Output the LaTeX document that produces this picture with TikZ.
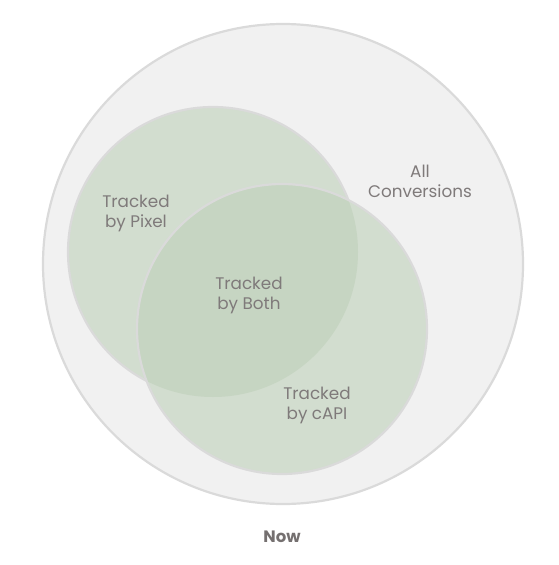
\documentclass[tikz,border=0pt]{standalone}
\usepackage{fontspec}
\setmainfont{Poppins}
\definecolor{bggray}{HTML}{F1F1F1}
\definecolor{edgegray}{HTML}{DADADA}
\definecolor{greenfill}{HTML}{D2DDCF}
\definecolor{overlapfill}{HTML}{C6D5C2}
\definecolor{txtgray}{HTML}{7F7A7A}
\definecolor{nowgray}{HTML}{757070}
\tikzset{
  lbl/.style={text=txtgray, font=\fontsize{16.8}{20}\selectfont, align=center},
  ring/.style={draw=edgegray, line width=2.2pt},
}
\begin{document}
\begin{tikzpicture}[x=1pt,y=-1pt]
\useasboundingbox (0,0) rectangle (558,565);
% outer circle
\fill[bggray] (283,264) circle (240);
\draw[ring] (283,264) circle (240);
% pixel circle
\fill[greenfill] (213,252) circle (145);
\draw[ring] (213,252) circle (145);
% cAPI circle
\fill[greenfill] (282,329) circle (145);
\begin{scope}
  \clip (213,252) circle (145);
  \fill[overlapfill] (282,329) circle (145);
\end{scope}
\draw[ring] (282,329) circle (145);
% labels
\node[lbl] (all) at (420,181) {All\\Conversions};
\node[lbl] (pixel) at (136,213) {Tracked\\by Pixel};
\node[lbl] (both) at (249,295) {Tracked\\by Both};
\node[lbl] (capi) at (317,405) {Tracked\\by cAPI};
\node[text=nowgray, font=\fontsize{16.5}{18}\selectfont\bfseries] (now) at (282,537) {Now};
\end{tikzpicture}
\end{document}
